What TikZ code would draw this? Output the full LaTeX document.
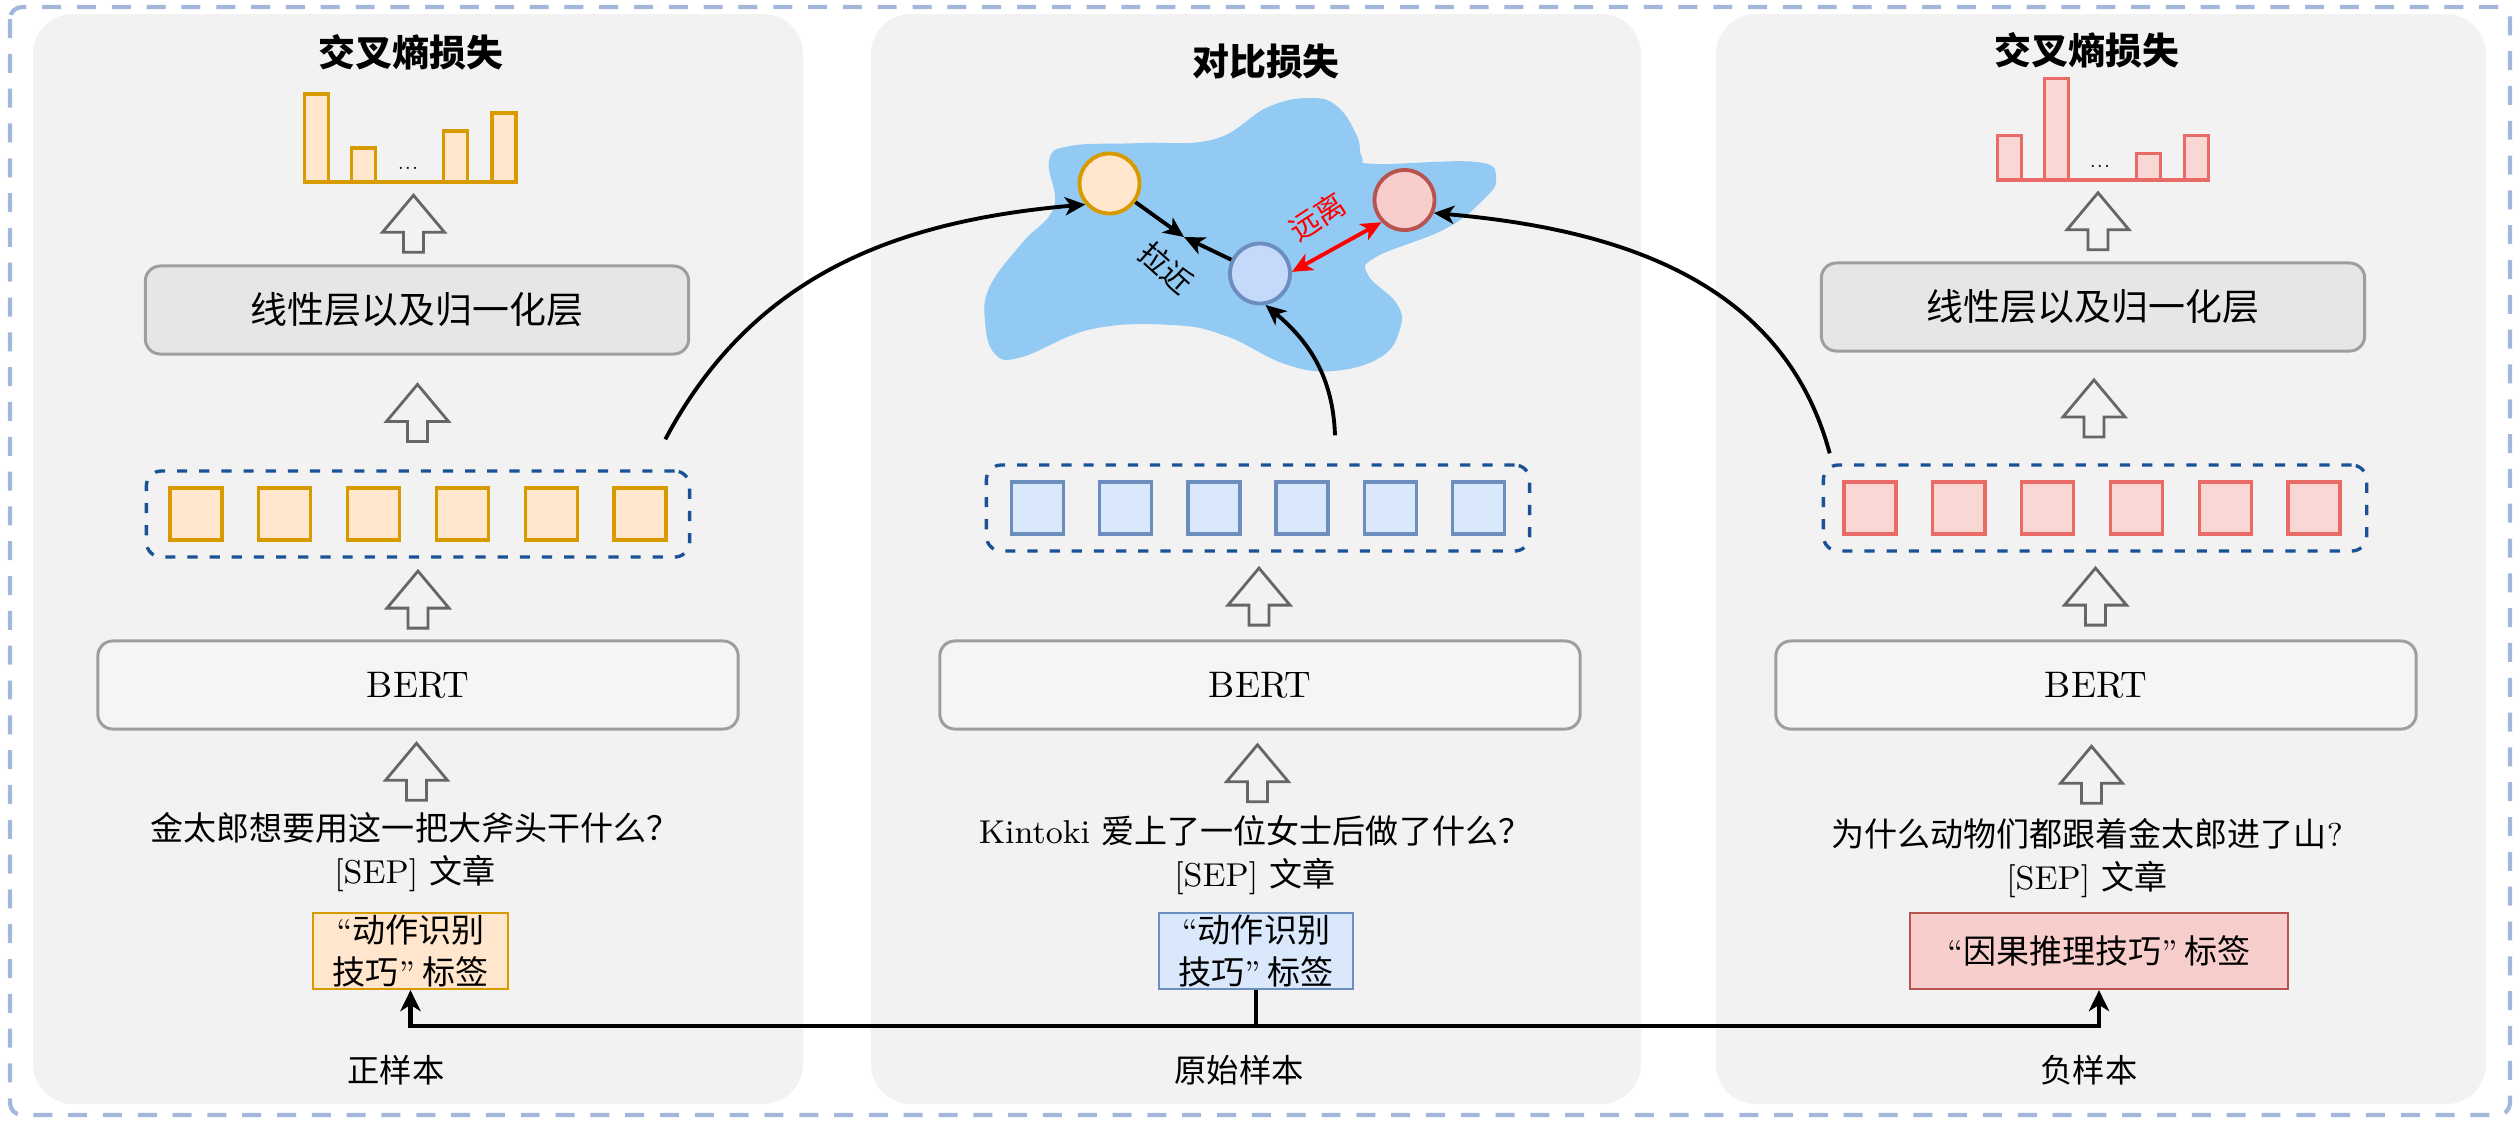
\documentclass[tikz,border=0pt]{standalone}
\usepackage{fontspec}
\newfontfamily\cjk{Noto Sans CJK SC}
\usetikzlibrary{arrows.meta,calc,positioning}

\definecolor{panelgray}{HTML}{F2F2F2}
\definecolor{framecol}{HTML}{A3B7DB}
\definecolor{vecdash}{HTML}{1A5296}
\definecolor{orgline}{HTML}{D79B00}
\definecolor{orgfill}{HTML}{FFE6CC}
\definecolor{bluline}{HTML}{6C8EBF}
\definecolor{blufill}{HTML}{DAE8FC}
\definecolor{bluecirc}{HTML}{C5D9FA}
\definecolor{redline}{HTML}{B85450}
\definecolor{redfill}{HTML}{F8CECC}
\definecolor{pinkline}{HTML}{EA6B66}
\definecolor{pinkfill}{HTML}{F8D7D5}
\definecolor{blobcol}{HTML}{93CAF3}
\definecolor{boxline}{HTML}{9E9E9E}
\definecolor{linfill}{HTML}{E6E6E6}
\definecolor{bertfill}{HTML}{F5F5F5}
\definecolor{arrgray}{HTML}{666666}

\begin{document}
\begin{tikzpicture}[
            x=0.01cm, y=0.01cm,
            panel/.style = {fill=panelgray, rounded corners=0.4cm},
            framebox/.style = {draw=framecol, line width=1.2pt,
                dash pattern=on 5.4pt off 4.5pt, rounded corners=0.12cm},
            titletxt/.style = {font=\cjk\bfseries\fontsize{10.5}{12}\selectfont},
            body/.style = {font=\fontsize{9.4}{12}\selectfont, align=center, inner sep=0pt},
            sample/.style = {font=\cjk\fontsize{9.2}{12}\selectfont, inner sep=0pt},
            linbox/.style = {draw=boxline, fill=linfill, line width=0.85pt,
                rounded corners=0.15cm, minimum width=5.43cm, minimum height=0.88cm,
                font=\cjk\fontsize{10.5}{12}\selectfont},
            bertbox/.style = {draw=boxline, fill=bertfill, line width=0.85pt,
                rounded corners=0.15cm, minimum width=6.4cm, minimum height=0.88cm,
                font=\fontsize{10.5}{12}\selectfont},
            vecbox/.style = {draw=vecdash, line width=0.95pt,
                dash pattern=on 2.9pt off 3.4pt, rounded corners=0.15cm,
                minimum width=5.43cm, minimum height=0.86cm},
            cell/.style = {line width=0.95pt, minimum size=0.52cm, inner sep=0pt},
            bar/.style = {line width=0.95pt},
            tag/.style = {line width=0.6pt, minimum height=0.76cm, inner sep=0pt,
                align=center, font=\cjk\fontsize{9.4}{12}\selectfont},
            dot/.style = {circle, line width=1.1pt, minimum size=0.6cm, inner sep=0pt},
            edge/.style = {line width=1.1pt,
                -{Stealth[length=5.8pt, width=5.2pt, inset=1.6pt]}},
            push/.style = {line width=1.1pt, draw=red,
                {Stealth[length=5.8pt, width=5.2pt, inset=1.6pt]}-{Stealth[length=5.8pt, width=5.2pt, inset=1.6pt]}},
            busline/.style = {line width=1.2pt,
                -{Stealth[length=6pt, width=5.8pt, inset=1.8pt]}},
            hollow/.style = {draw=arrgray, fill=panelgray, line width=0.8pt},
            uparrow/.pic = {\draw[hollow] (-10,-29) -- (-10,-9) -- (-31,-9)
                -- (0,28) -- (31,-9) -- (10,-9) -- (10,-29) -- cycle;}
            ]
            \useasboundingbox (0,0) rectangle (2520,-1123);

            % Panels
            \fill[panel] (33,-14) rectangle (803,-1104);
            \fill[panel] (871,-14) rectangle (1641,-1104);
            \fill[panel] (1716,-14) rectangle (2486,-1104);
            \draw[framebox] (10,-7) rectangle (2510,-1115);

            % Left column
            \node[titletxt] (ltitle) at (411,-52) {交叉熵损失};
            \coordinate (lbase) at (410,-182);
            \foreach \o/\h in {-105.5/88, -58.5/34, 33.5/51, 82/69}
                \draw[bar, draw=orgline, fill=orgfill] ($(lbase)+(\o,0)$) rectangle ++(24,\h);
            \draw[bar, draw=orgline] ($(lbase)+(-107,0)$) -- ($(lbase)+(108,0)$);
            \node[font=\fontsize{5}{6}\selectfont, inner sep=0pt] (ldots) at ($(lbase)+(-2,14)$) {...};
            \node[linbox] (llin) at (417,-310) {线性层以及归一化层};
            \node[vecbox] (lvec) at (418,-514) {};
            \foreach \i in {1,...,6}
                \node[cell, draw=orgline, fill=orgfill] (lc\i) at ($(lvec)+({(\i-3.5)*88.8},0)$) {};
            \node[bertbox] (lbert) at (418,-685) {BERT};
            \node[body] (lq) at (415,-852) {{\cjk 金太郎想要用这一把大斧头干什么？}\\{}[SEP] {\cjk 文章}};
            \node[tag, draw=orgline, fill=orgfill, minimum width=1.95cm] (llab) at (410.5,-951)
                {{\rmfamily “}动作识别\\技巧{\rmfamily ”} 标签};
            \node[sample] (lname) at (396,-1070) {正样本};

            % Middle column
            \node[titletxt] (mtitle) at (1266,-62) {对比损失};
            \fill[blobcol] plot[smooth cycle, tension=0.7] coordinates {
                (1311,-98) (1338,-107) (1357,-136) (1362,-157) (1376,-164)
                (1477,-162) (1496,-179) (1483,-200) (1445,-229) (1376,-257)
                (1368,-275) (1397,-304) (1400,-329) (1381,-357) (1333,-371)
                (1285,-364) (1226,-336) (1172,-325) (1092,-329) (1022,-357)
                (995,-354) (985,-321) (990,-286) (1022,-243) (1054,-207)
                (1049,-161) (1070,-146) (1140,-143) (1215,-139) (1268,-107)};
            \node[dot, draw=orgline, fill=orgfill] (mpos) at (1109.5,-183.5) {};
            \node[dot, draw=bluline, fill=bluecirc] (manc) at (1260,-273.5) {};
            \node[dot, draw=redline, fill=redfill] (mneg) at (1404.5,-200) {};
            \coordinate (mmeet) at (1184,-237);
            \draw[edge] (mpos) -- (mmeet);
            \draw[edge] (manc) -- (mmeet);
            \draw[push] (manc.3) -- (mneg.224);
            \node[font=\cjk\fontsize{8.5}{10}\selectfont, rotate=-42] (mpull) at (1166,-267.5) {拉近};
            \node[font=\cjk\fontsize{8.5}{10}\selectfont, text=red, rotate=33] (mpush) at (1317.5,-217) {远离};
            \node[vecbox] (mvec) at (1258,-508) {};
            \foreach \i in {1,...,6}
                \node[cell, draw=bluline, fill=blufill] (mc\i) at ($(mvec)+({(\i-3.5)*88.2},0)$) {};
            \node[bertbox] (mbert) at (1260,-685) {BERT};
            \node[body] (mq) at (1255,-855) {Kintoki {\cjk 爱上了一位女士后做了什么？}\\{}[SEP] {\cjk 文章}};
            \node[tag, draw=bluline, fill=blufill, minimum width=1.94cm] (mlab) at (1256,-951)
                {{\rmfamily “}动作识别\\技巧{\rmfamily ”} 标签};
            \node[sample] (mname) at (1239,-1070) {原始样本};

            % Right column
            \node[titletxt] (rtitle) at (2087,-50) {交叉熵损失};
            \coordinate (rbase) at (2103,-180);
            \foreach \o/\h in {-105.5/44.5, -58.5/101.5, 33.5/26.5, 81.5/44.5}
                \draw[bar, draw=pinkline, fill=pinkfill] ($(rbase)+(\o,0)$) rectangle ++(24,\h);
            \draw[bar, draw=pinkline] ($(rbase)+(-107,0)$) -- ($(rbase)+(107,0)$);
            \node[font=\fontsize{5}{6}\selectfont, inner sep=0pt] (rdots) at ($(rbase)+(-3,14)$) {...};
            \node[linbox] (rlin) at (2093,-307) {线性层以及归一化层};
            \node[vecbox] (rvec) at (2095,-508) {};
            \foreach \i in {1,...,6}
                \node[cell, draw=pinkline, fill=pinkfill] (rc\i) at ($(rvec)+({(\i-3.5)*88.8-3},0)$) {};
            \node[bertbox] (rbert) at (2096,-685) {BERT};
            \node[body] (rq) at (2087,-858) {{\cjk 为什么动物们都跟着金太郎进了山}?\\{}[SEP] {\cjk 文章}};
            \node[tag, draw=redline, fill=redfill, minimum width=3.78cm] (rlab) at (2099,-951)
                {{\rmfamily “}因果推理技巧{\rmfamily ”} 标签};
            \node[sample] (rname) at (2089,-1070) {负样本};

            % Block arrows
            \foreach \a/\b in {lbase/llin.north, llin.south/lvec.north, lvec.south/lbert.north,
                    lbert.south/lq.north, mvec.south/mbert.north, mbert.south/mq.north,
                    rbase/rlin.north, rlin.south/rvec.north, rvec.south/rbert.north,
                    rbert.south/rq.north}
                \pic at ($(\a)!0.5!(\b)$) {uparrow};

            % Curved links into the embedding space
            \coordinate (lout) at ($(lvec.north east)+(-26,30)$);
            \coordinate (mout) at ($(mvec.north)+(77,28)$);
            \coordinate (rout) at ($(rvec.north west)+(8,10)$);
            \draw[edge] (lout) to[out=62, in=185] (mpos.221);
            \draw[edge] (mout) to[out=92, in=-40] (manc.-80);
            \draw[edge] (rout) to[out=105, in=-5] (mneg.-24);

            % Label bus
            \coordinate (bus) at ($(mlab.south)+(0,-36)$);
            \draw[busline] (mlab.south) -- (bus) -| (llab.south);
            \draw[busline] (mlab.south) -- (bus) -| (rlab.south);
        \end{tikzpicture}
\end{document}
